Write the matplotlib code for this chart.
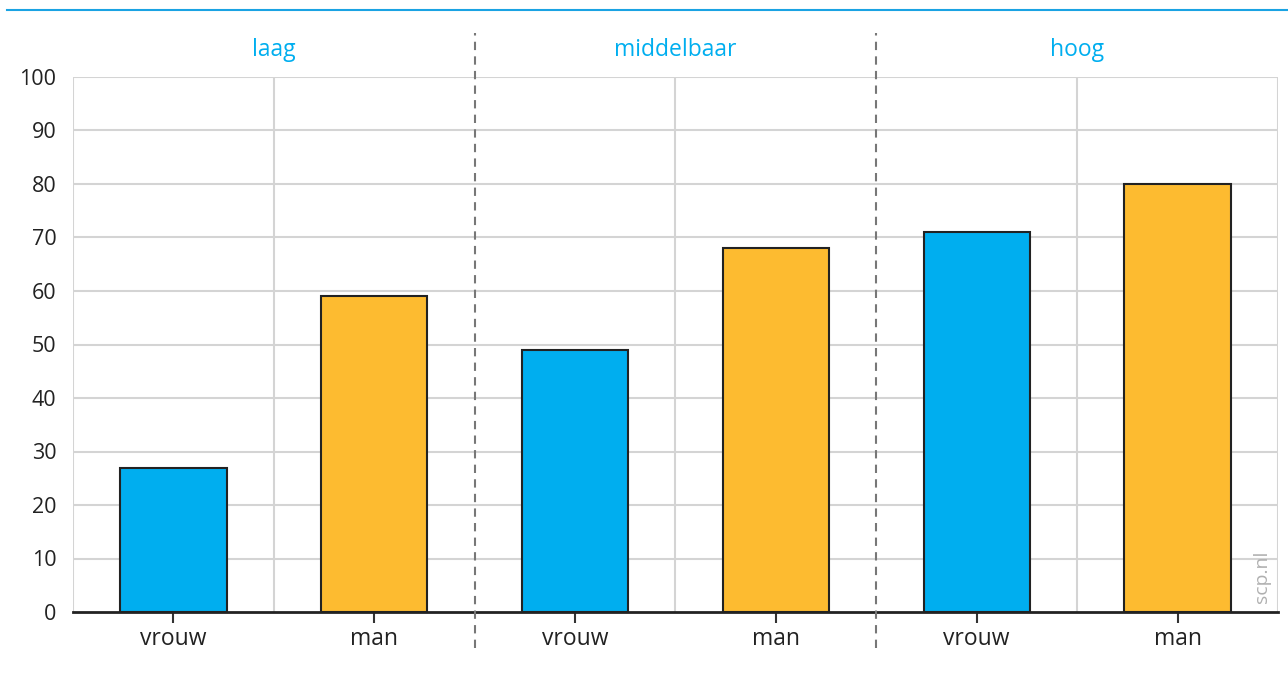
import matplotlib
matplotlib.use("Agg")
import matplotlib.pyplot as plt
import matplotlib.transforms as mtransforms

groups = ["laag", "middelbaar", "hoog"]
categories = ["vrouw", "man", "vrouw", "man", "vrouw", "man"]
values = [27, 59, 49, 68, 71, 80]
colors = ["#00AEEF", "#FDBB30", "#00AEEF", "#FDBB30", "#00AEEF", "#FDBB30"]
yticks = list(range(0, 101, 10))

plt.rcParams['font.family'] = ['Open Sans', 'DejaVu Sans']

fig = plt.figure(figsize=(12.88, 6.75), dpi=100)
ax = fig.add_axes([73/1288, 1-612/675, (1278-73)/1288, (612-77)/675])

x = list(range(len(categories)))
ax.bar(x, values, width=0.53, color=colors, edgecolor="#222222", linewidth=1.5, zorder=3)

ax.set_xlim(-0.5, 5.5)
ax.set_ylim(0, 100)
ax.set_yticks(yticks)
ax.set_yticklabels([str(v) for v in yticks], fontsize=15.5, color="#222222")
ax.set_xticks(x)
ax.set_xticklabels(categories, fontsize=16.5, color="#222222")
ax.tick_params(axis='y', length=0, pad=12)
ax.tick_params(axis='x', length=8, width=1.5, color="#333333", pad=3)

# horizontal grid
for v in yticks[1:]:
    ax.axhline(v, color="#d4d4d4", linewidth=1.5, zorder=1)
# vertical grid
for xv in [-0.5, 0.5, 2.5, 4.5, 5.5]:
    ax.axvline(xv, color="#d4d4d4", linewidth=1.5, zorder=1)

for s in ["top", "right", "left"]:
    ax.spines[s].set_visible(False)
ax.spines["bottom"].set_color("#222222")
ax.spines["bottom"].set_linewidth(2)
ax.spines["bottom"].set_zorder(4)

trans = mtransforms.blended_transform_factory(ax.transData, ax.transAxes)
for xv in [1.5, 3.5]:
    ax.plot([xv, xv], [-0.067, 1.082], transform=trans, color="#777777",
            linewidth=1.5, linestyle=(0, (4, 3)), clip_on=False, zorder=5)

for i, g in enumerate(groups):
    ax.text(2*i + 0.5, 1.05, g, transform=trans, ha="center", va="center",
            fontsize=16.5, color="#00AEEF")

ax.text(5.42, 0.065, "scp.nl", transform=trans, rotation=90, ha="center", va="center",
        fontsize=14, color="#b0b0b0", zorder=6)

fig.add_artist(plt.Line2D([7/1288, 1.0], [1-10/675, 1-10/675], transform=fig.transFigure,
                          color="#1AA3E3", linewidth=1.5))

fig.savefig("out.png", dpi=100)
